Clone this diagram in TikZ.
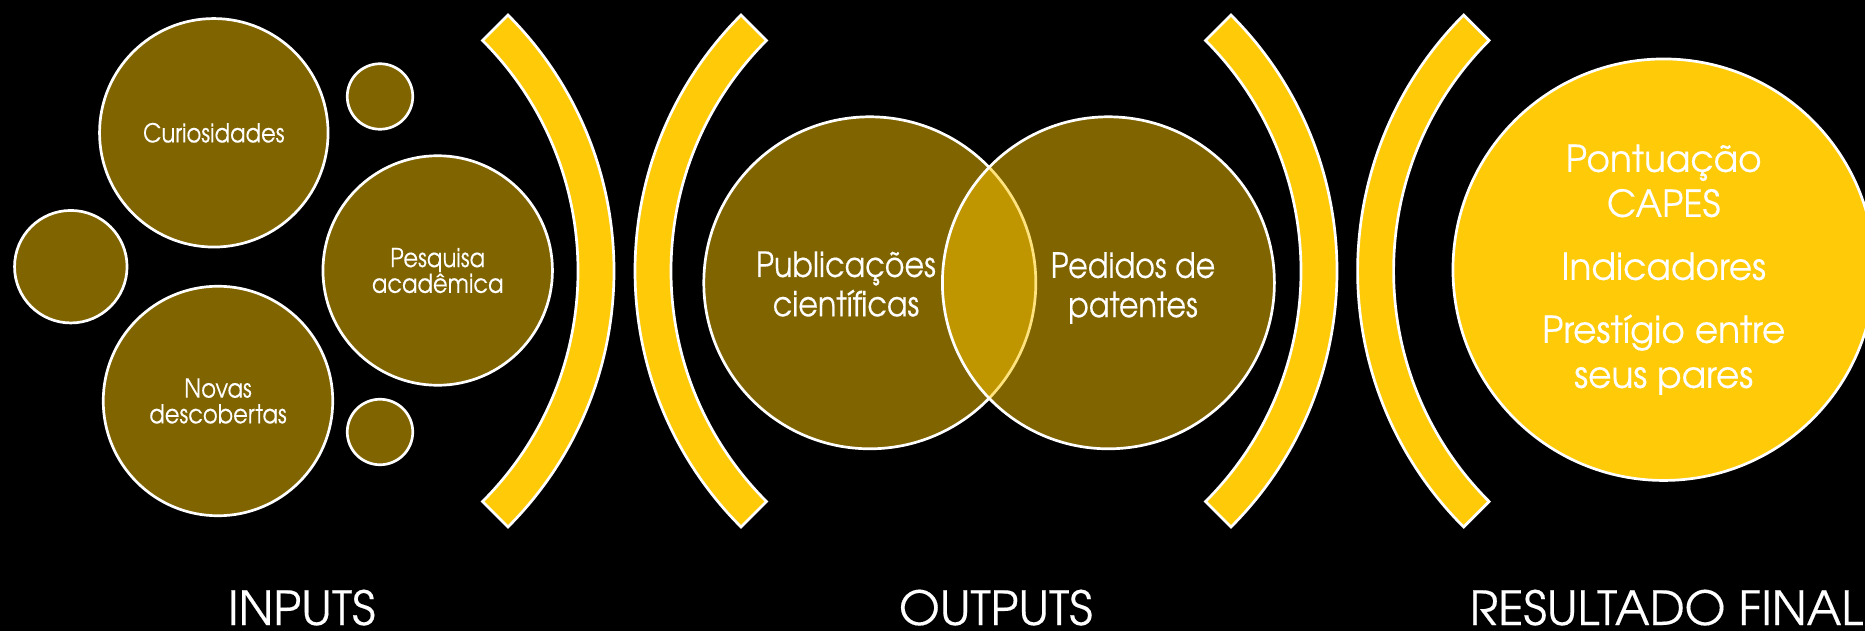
\documentclass[tikz,border=0pt]{standalone}
\usepackage{fontspec}
\setmainfont{TeX Gyre Adventor}[FakeBold=0.3]
\newfontfamily\narrowfont[FakeStretch=0.87,FakeBold=0.3]{TeX Gyre Adventor}
\newfontfamily\resfont[FakeStretch=0.97,FakeBold=0.3]{TeX Gyre Adventor}
\usetikzlibrary{calc}
\definecolor{dkgold}{RGB}{127,100,0}
\definecolor{vgold}{RGB}{255,200,0}
\definecolor{brgold}{RGB}{255,202,8}
\begin{document}
\begin{tikzpicture}[x=1pt,y=-1pt,
  bubble/.style={circle, draw=white, line width=2.7pt, fill=dkgold, inner sep=0pt, text=white, align=center},
  venn/.style={circle, draw=white, line width=2.7pt, fill=vgold, fill opacity=0.5, draw opacity=1, inner sep=0pt},
  result/.style={circle, draw=white, line width=2.7pt, fill=brgold, inner sep=0pt, text=white, align=center},
  arcband/.style={fill=brgold, draw=white, line width=2.7pt, line join=miter},
  lbl/.style={text=white, align=center, inner sep=0pt},
  smallf/.style={font=\narrowfont\fontsize{26}{25.7}\selectfont},
  vennf/.style={font=\narrowfont\fontsize{34.7}{39.3}\selectfont},
  resf/.style={font=\resfont\fontsize{37}{45}\selectfont},
  headf/.style={font=\fontsize{47}{50}\selectfont}]
\fill[black] (0,0) rectangle (1865,631);
\useasboundingbox (0,0) rectangle (1865,631);

% INPUTS bubbles
\node[bubble, smallf, minimum size=228.5pt] (cur) at (213.8,132.8) {Curiosidades};
\node[bubble, minimum size=112.5pt] (s1) at (70.8,266.7) {};
\node[bubble, minimum size=65.5pt] (s2) at (380,96.5) {};
\node[bubble, minimum size=65.5pt] (s3) at (380,432) {};
\node[bubble, smallf, minimum size=229.5pt] (pes) at (437.7,270.5) {Pesquisa\\acadêmica};
\node[bubble, smallf, minimum size=229.5pt] (nov) at (218,401) {Novas\\descobertas};

% brackets
\coordinate (c1) at (252,271);
\coordinate (c2) at (997,271);
\coordinate (c3) at (975,271);
\coordinate (c4) at (1719.6,271);
\draw[arcband] ($(c1)+(45:362)$) arc[start angle=45, end angle=-45, radius=362]
  -- ($(c1)+(-45:326)$) arc[start angle=-45, end angle=45, radius=326] -- cycle;
\draw[arcband] ($(c2)+(135:362)$) arc[start angle=135, end angle=225, radius=362]
  -- ($(c2)+(225:326)$) arc[start angle=225, end angle=135, radius=326] -- cycle;
\draw[arcband] ($(c3)+(45:362)$) arc[start angle=45, end angle=-45, radius=362]
  -- ($(c3)+(-45:326)$) arc[start angle=-45, end angle=45, radius=326] -- cycle;
\draw[arcband] ($(c4)+(135:362)$) arc[start angle=135, end angle=225, radius=362]
  -- ($(c4)+(225:326)$) arc[start angle=225, end angle=135, radius=326] -- cycle;

% OUTPUTS venn
\node[venn, minimum size=332pt] (pub) at (869.8,282.8) {};
\node[venn, minimum size=332pt] (pat) at (1108.4,282.8) {};
\node[lbl, vennf] (pubt) at (846,284) {Publicações\\científicas};
\node[lbl, vennf] (patt) at (1133,288) {Pedidos de\\patentes};

% RESULT
\node[result, resf, minimum size=421.5pt] (res) at (1663.7,269.7) {Pontuação\\CAPES\\[18pt]Indicadores\\[18pt]Prestígio entre\\seus pares};

% headings
\node[lbl, headf, anchor=base] (hin) at (301.7,625) {INPUTS};
\node[lbl, headf, anchor=base] (hout) at (995.8,625) {OUTPUTS};
\node[lbl, headf, anchor=base] (hres) at (1666.4,625) {RESULTADO FINAL};
\end{tikzpicture}
\end{document}
